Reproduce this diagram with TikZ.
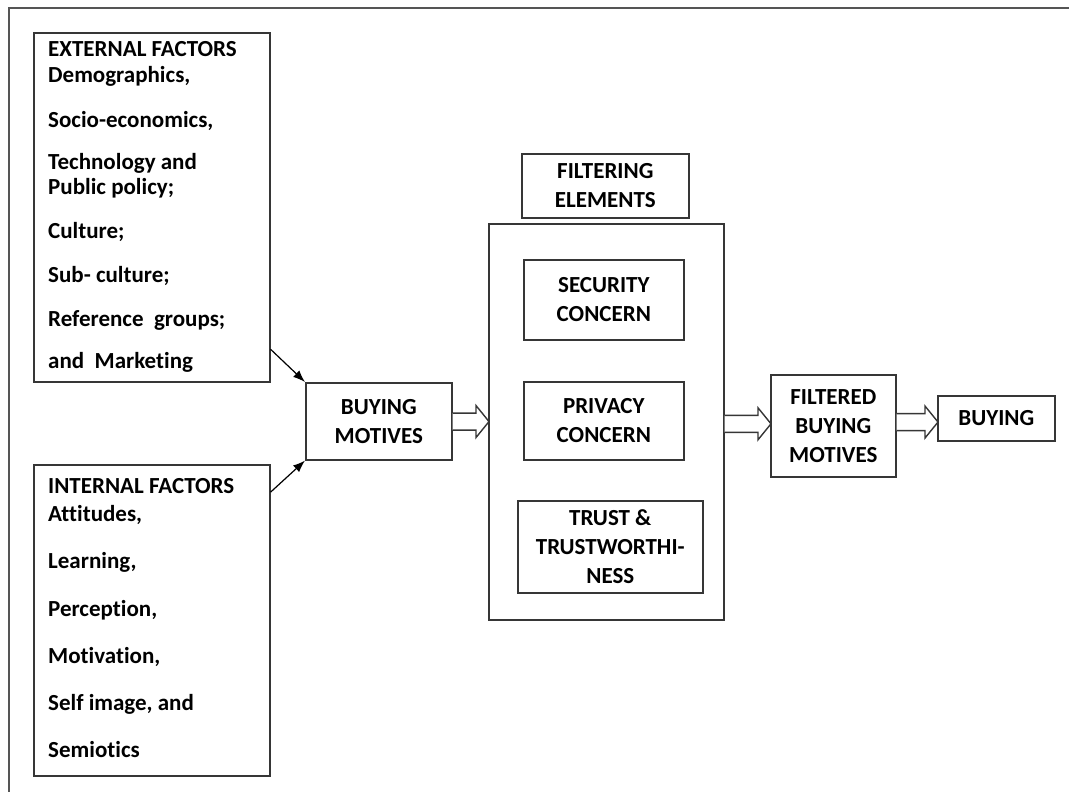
\documentclass[tikz,border=0pt]{standalone}
\usepackage{fontspec}
\setmainfont{Carlito}[Ligatures=NoCommon]
\usetikzlibrary{calc,arrows.meta}
\definecolor{boxc}{HTML}{363636}
\definecolor{framec}{HTML}{555555}
\begin{document}
\begin{tikzpicture}[x=1pt,y=-1pt,
  box/.style={draw=boxc, line width=1.6pt, inner sep=0pt, anchor=north west, fill=white},
  lbl/.style={font=\fontsize{23}{29}\selectfont\bfseries, align=center},
  ln/.style={anchor=base west, inner sep=0pt, font=\fontsize{23}{25}\selectfont\bfseries},
  thin/.style={draw=black, line width=1.2pt, -{Latex[length=12pt,width=9pt]}},
  harrow/.style={draw=boxc, line width=1.4pt, fill=white, line join=miter}
]
\useasboundingbox (0,0) rectangle (1069,792);
% outer frame (open at right and bottom)
\draw[framec, line width=2.4pt] (9,792) -- (9,8) -- (1069,8);

% left boxes
\node[box, minimum width=236, minimum height=349] (ext) at (33,32) {};
\node[box, minimum width=236, minimum height=311] (int) at (33,464) {};

\node[ln] (e1) at (48,57) {EXTERNAL FACTORS};
\node[ln] (e2) at (48,82) {Demographics,};
\node[ln] (e3) at (48,128) {Socio-economics,};
\node[ln] (e4) at (48,169) {Technology and};
\node[ln] (e5) at (48,194) {Public policy;};
\node[ln] (e6) at (48,238) {Culture;};
\node[ln] (e7) at (48,282) {Sub- culture;};
\node[ln] (e8) at (48,326) {Reference\ \ groups;};
\node[ln] (e9) at (48,368) {and\ \ Marketing};

\node[ln] (i1) at (48,493) {INTERNAL FACTORS};
\node[ln] (i2) at (48,521) {Attitudes,};
\node[ln] (i3) at (48,568) {Learning,};
\node[ln] (i4) at (48,616) {Perception,};
\node[ln] (i5) at (48,663) {Motivation,};
\node[ln] (i6) at (48,710) {Self image, and};
\node[ln] (i7) at (48,757) {Semiotics};

% middle boxes
\node[box, lbl, minimum width=146, minimum height=77] (bm) at (305,382) {BUYING\\MOTIVES};
\node[box, lbl, minimum width=167, minimum height=64] (fel) at (521,153) {FILTERING\\ELEMENTS};
\node[box, minimum width=235, minimum height=396] (filt) at (488,223) {};
\node[box, lbl, minimum width=160, minimum height=80] (sec) at (523,259) {SECURITY\\CONCERN};
\node[box, lbl, minimum width=160, minimum height=78] (priv) at (523,381) {PRIVACY\\CONCERN};
\node[box, lbl, minimum width=185, minimum height=92] (trust) at (517,500) {TRUST \&\\TRUSTWORTHI-\\NESS};
\node[box, lbl, minimum width=125, minimum height=102] (fbm) at (770,374) {FILTERED\\BUYING\\MOTIVES};
\node[box, lbl, minimum width=117, minimum height=45] (buy) at (937,395) {BUYING};

% thin arrows
\coordinate (es) at ($(ext.north east)!0.905!(ext.south east)$);
\coordinate (is) at ($(int.north east)!0.09!(int.south east)$);
\draw[thin] (es) -- (bm.north west);
\draw[thin] (is) -- (bm.south west);

% hollow block arrows
\foreach \a/\b in {bm/filt, filt/fbm, fbm/buy}{
  \draw[harrow] let \p1=(\a.east), \p2=(\b.west), \n1={(\y1+\y2)/2} in
    (\x1,\n1+8.5pt) -- (\x2-12pt,\n1+8.5pt) -- (\x2-12pt,\n1+16pt) -- (\x2+1pt,\n1)
    -- (\x2-12pt,\n1-16pt) -- (\x2-12pt,\n1-8.5pt) -- (\x1,\n1-8.5pt);
}
\end{tikzpicture}
\end{document}
